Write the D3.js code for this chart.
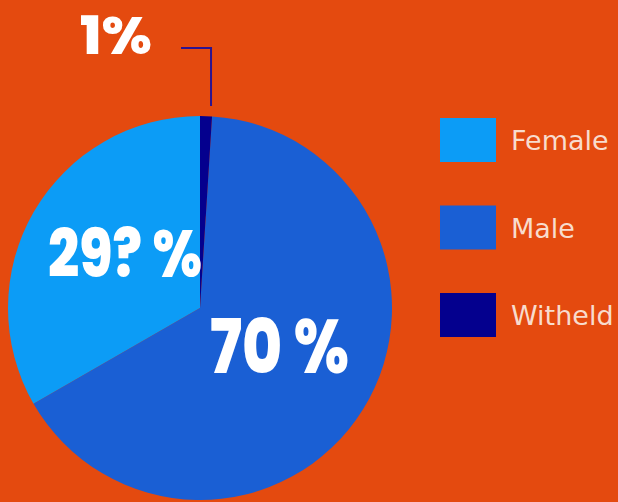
<!DOCTYPE html>
<html lang="en">
<head>
  <meta charset="UTF-8">
  <title>Gender Pie</title>
  <script src="https://d3js.org/d3.v7.min.js"></script>
  <style>
    html, body { margin: 0; padding: 0; background: #e44a0f; }
    svg { display: block; }
  </style>
</head>
<body>
  <script>
    // Data (legend order)
    const categories = ["Female", "Male", "Witheld"];
    const shares = [33.3, 65.7, 1];           // slice sizes as drawn
    const labels = ["29? %", "70 %", "1%"];     // printed labels
    const colors = ["#0c9cf6", "#1a5fd4", "#04008e"];
    // clockwise from 12 o'clock
    const drawOrder = ["Witheld", "Male", "Female"];

    const W = 618, H = 502;
    const cx = 200, cy = 308, r = 192;

    const svg = d3.select("body").append("svg")
      .attr("width", W).attr("height", H);

    svg.append("rect").attr("width", W).attr("height", H).attr("fill", "#e44a0f");

    const data = categories.map((c, i) => ({ name: c, value: shares[i], label: labels[i], color: colors[i] }));

    const pie = d3.pie()
      .value(d => d.value)
      .sort((a, b) => drawOrder.indexOf(a.name) - drawOrder.indexOf(b.name));

    const arc = d3.arc().innerRadius(0).outerRadius(r);

    const g = svg.append("g").attr("transform", `translate(${cx},${cy})`);

    const arcs = pie(data);
    g.selectAll("path")
      .data(arcs)
      .enter()
      .append("path")
      .attr("d", arc)
      .attr("fill", d => d.data.color);

    // big labels
    const lab = svg.append("g")
      .attr("font-family", "Poppins, 'Open Sans', Inter, sans-serif")
      .attr("font-weight", 800)
      .attr("fill", "#ffffff");

    const byName = Object.fromEntries(arcs.map(a => [a.data.name, a]));

    lab.append("text")
      .attr("x", cx - 152).attr("y", cy - 31)
      .attr("font-size", 66)
      .attr("textLength", 154)
      .attr("lengthAdjust", "spacingAndGlyphs")
      .text(byName.Female.data.label);

    lab.append("text")
      .attr("x", cx + 10).attr("y", cy + 65)
      .attr("font-size", 76)
      .attr("textLength", 139)
      .attr("lengthAdjust", "spacingAndGlyphs")
      .text(byName.Male.data.label);

    lab.append("text")
      .attr("x", cx - 120).attr("y", cy - 254)
      .attr("font-size", 52)
      .attr("textLength", 72)
      .attr("lengthAdjust", "spacingAndGlyphs")
      .text(byName.Witheld.data.label);

    // leader line for the small slice
    const wa = byName.Witheld;
    const mid = (wa.startAngle + wa.endAngle) / 2;
    const lx = cx + Math.sin(mid) * r, ly = cy - Math.cos(mid) * r;
    svg.append("path")
      .attr("d", `M${cx - 19},${cy - 260} H${lx + 5} V${ly - 10}`)
      .attr("fill", "none")
      .attr("stroke", "#2b1390")
      .attr("stroke-width", 2);

    // legend
    const legend = svg.selectAll(".legend")
      .data(data)
      .enter()
      .append("g")
      .attr("class", "legend")
      .attr("transform", (d, i) => `translate(440, ${118 + i * 87.5})`);

    legend.append("rect")
      .attr("width", 56)
      .attr("height", 44)
      .attr("fill", d => d.color);

    legend.append("text")
      .attr("x", 71)
      .attr("y", 32)
      .attr("font-family", "'DejaVu Sans', sans-serif")
      .attr("font-size", 27)
      .attr("fill", "#f8dccd")
      .text(d => d.name);
  </script>
</body>
</html>
